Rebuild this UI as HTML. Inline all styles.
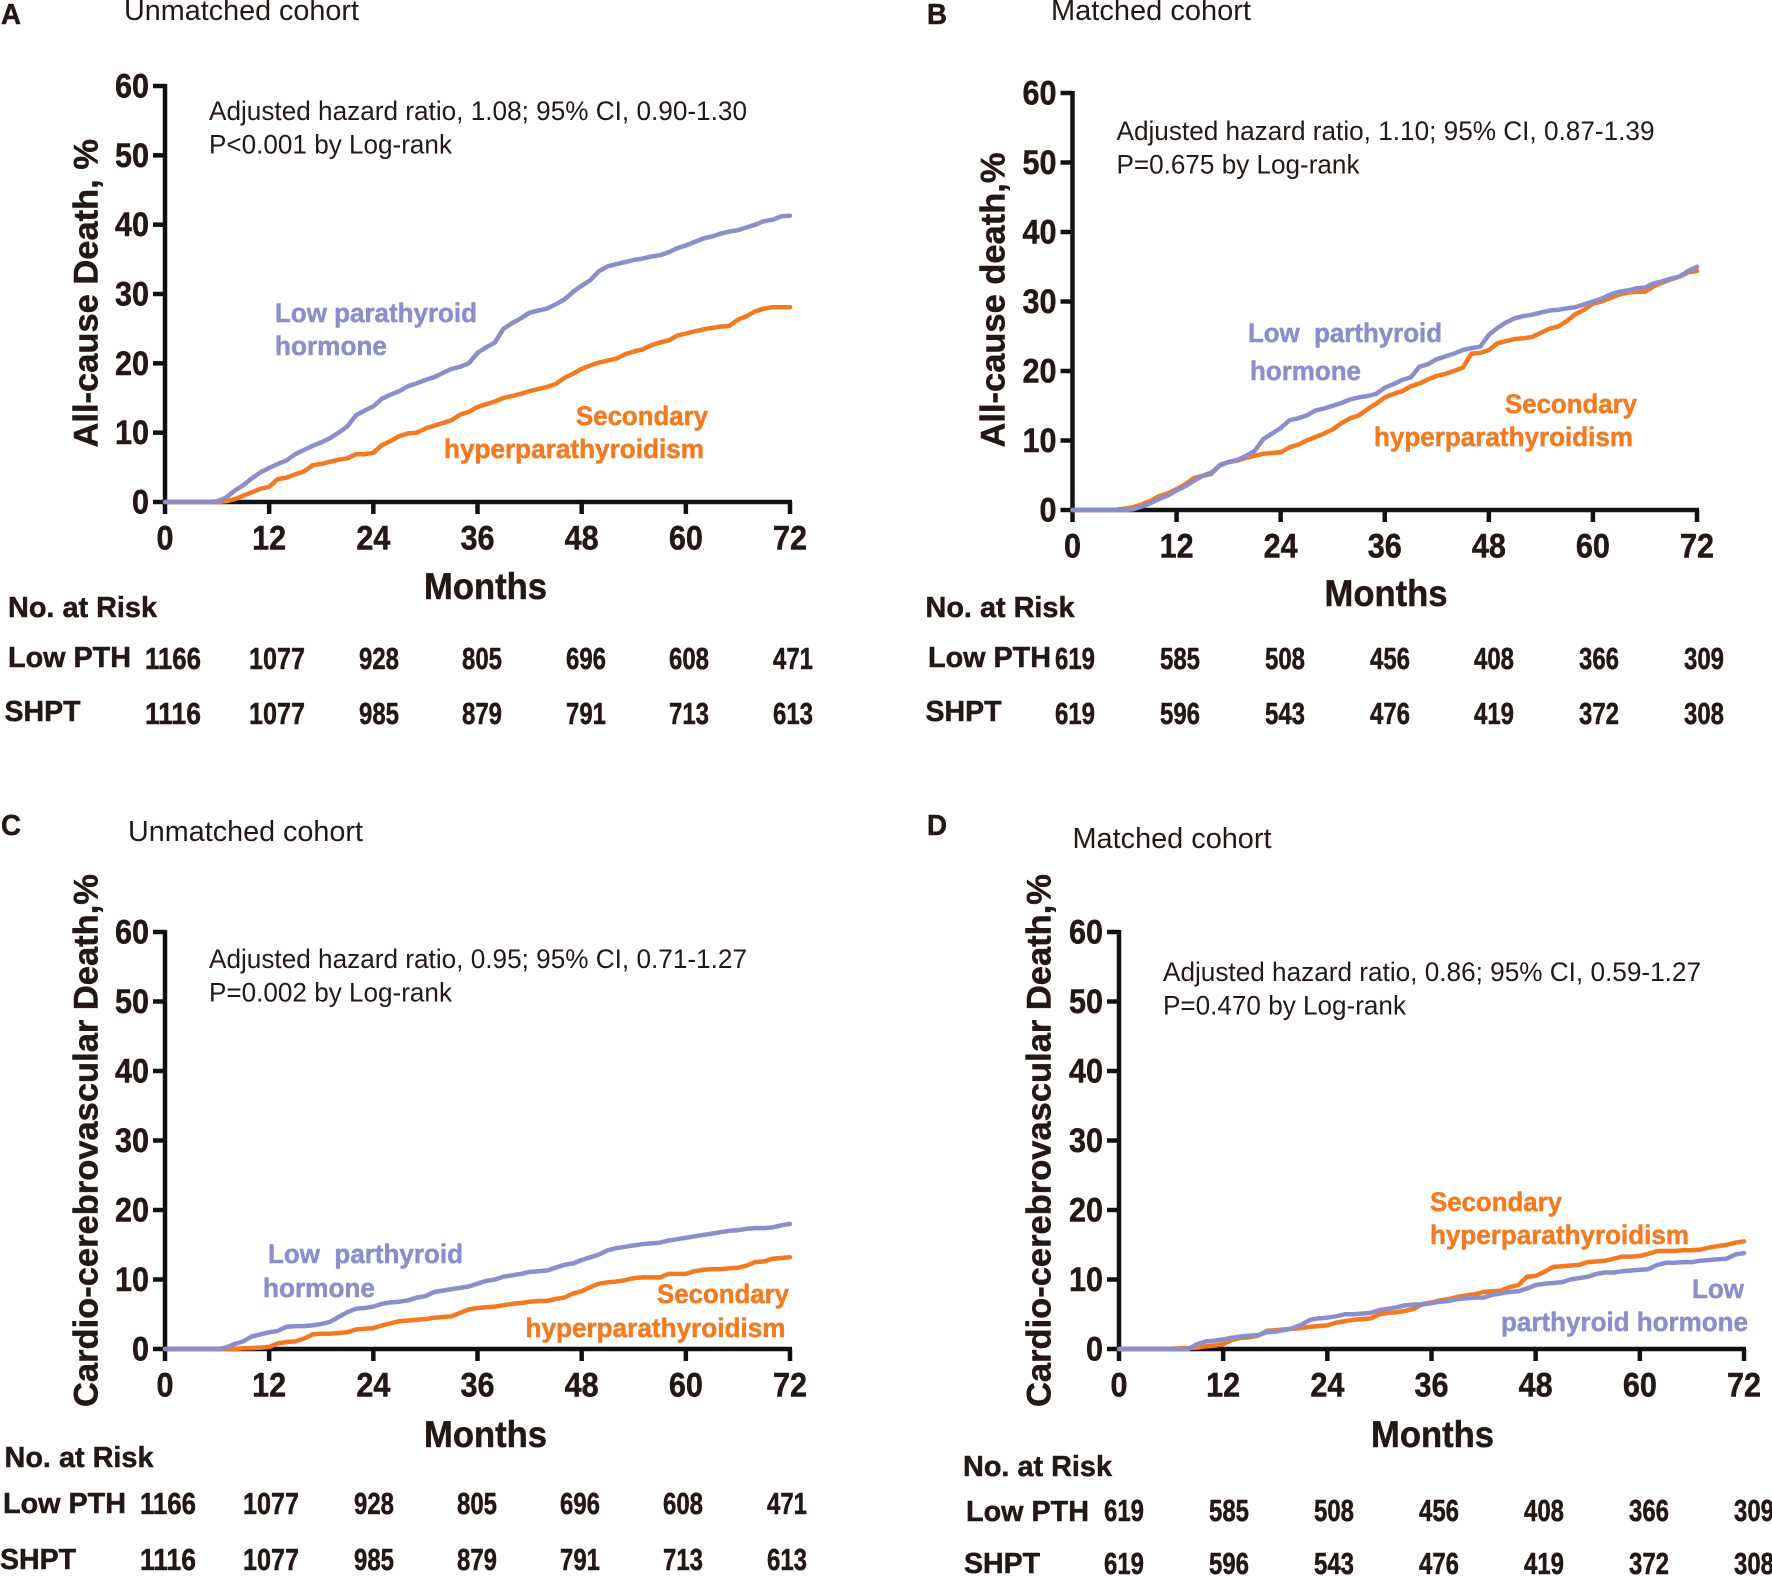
<!DOCTYPE html>
<html lang="en">
<head>
<meta charset="utf-8">
<title>Kaplan-Meier curves: low PTH vs secondary hyperparathyroidism</title>
<style>
html,body{margin:0;padding:0;background:#fff;}
svg{display:block;}
text{font-family:"Liberation Sans",Arial,sans-serif;fill:#231815;}
</style>
</head>
<body>
<svg id="figure" xmlns="http://www.w3.org/2000/svg" width="1772" height="1576" viewBox="0 0 1772 1576"></svg>
<script>
const months = [0,1,2,3,4,5,6,7,8,9,10,11,12,13,14,15,16,17,18,19,20,21,22,23,24,25,26,27,28,29,30,31,32,33,34,35,36,37,38,39,40,41,42,43,44,45,46,47,48,49,50,51,52,53,54,55,56,57,58,59,60,61,62,63,64,65,66,67,68,69,70,71,72];
const xTicks = [0,12,24,36,48,60,72];
const yTicks = [0,10,20,30,40,50,60];

const lowPthA = [0,0,0,0,0,0,.1,.6,1.6,2.4,3.4,4.3,4.9,5.5,6,6.9,7.5,8.1,8.6,9.2,10,10.9,12.5,13.2,13.8,14.9,15.5,16,16.7,17.1,17.6,18,18.6,19.2,19.5,20,21.5,22.3,23,25,25.8,26.5,27.3,27.6,27.9,28.5,29.2,30.3,31.2,32,33.3,34,34.3,34.6,34.9,35.1,35.4,35.6,36,36.6,37,37.5,38,38.3,38.7,39,39.2,39.6,40,40.5,40.7,41.2,41.3];
const shptA = [0,0,0,0,0,0,0,.1,.4,.9,1.4,1.9,2.2,3.3,3.5,4,4.4,5.3,5.5,5.8,6.1,6.3,6.9,6.9,7.1,8.2,8.8,9.5,9.9,10,10.6,11,11.4,11.8,12.6,13,13.7,14.1,14.5,15,15.3,15.6,16,16.3,16.6,17,17.9,18.5,19.2,19.7,20.1,20.4,20.7,21.3,21.7,22,22.6,23,23.3,24,24.3,24.6,24.9,25.1,25.3,25.4,26.3,26.8,27.5,27.9,28.1,28.1,28.1];

const lowPthB = [0,0,0,0,0,0,0,.1,.5,1,1.6,2.1,2.8,3.4,4.2,4.9,5.4,6.4,6.9,7.2,7.8,8.5,10.2,11,11.8,12.9,13.2,13.6,14.3,14.6,15,15.4,15.9,16.2,16.4,16.7,17.6,18.1,18.7,19.1,20.6,21,21.7,22.1,22.5,23,23.3,23.5,25.2,26.2,27,27.6,27.9,28.1,28.4,28.7,28.8,29,29.2,29.6,30,30.4,31,31.4,31.6,31.9,32,32.6,32.9,33.3,33.6,34.4,35];
const shptB = [0,0,0,0,0,.05,.2,.4,.8,1.3,2,2.4,3,3.7,4.6,4.9,5.2,6.5,6.9,7.1,7.5,7.8,8.1,8.2,8.3,9,9.4,10,10.5,11,11.6,12.5,13.2,13.6,14.5,15.3,16.2,16.7,17.1,17.8,18.2,18.8,19.3,19.6,20,20.5,22.5,22.6,23,24,24.3,24.6,24.7,24.9,25.5,26.1,26.4,27.2,28.2,28.8,29.7,30,30.5,31,31.3,31.4,31.4,32.2,32.7,33.2,33.6,34.2,34.4];

const lowPthC = [0,0,0,0,0,0,0,.2,.7,1.1,1.8,2.1,2.4,2.6,3.2,3.3,3.3,3.4,3.6,3.9,4.6,5.3,5.8,5.9,6.1,6.5,6.7,6.8,7,7.4,7.6,8.2,8.4,8.6,8.8,9,9.4,9.8,10,10.4,10.6,10.8,11.1,11.2,11.3,11.7,12.1,12.3,12.8,13.2,13.6,14.2,14.5,14.7,14.9,15.1,15.2,15.3,15.6,15.8,16,16.2,16.4,16.6,16.8,17,17.1,17.3,17.4,17.4,17.5,17.8,18];
const shptC = [0,0,0,0,0,0,0,0,0,.1,.15,.2,.3,.8,1,1.1,1.5,2.1,2.2,2.2,2.3,2.4,2.8,2.9,3,3.4,3.7,4,4.1,4.2,4.3,4.5,4.6,4.7,5.2,5.7,5.9,6,6.1,6.3,6.5,6.6,6.8,6.9,6.9,7.2,7.4,8,8.3,8.9,9.4,9.6,9.7,9.9,10.2,10.3,10.3,10.3,10.8,10.8,10.8,11.2,11.4,11.5,11.5,11.6,11.7,12,12.5,12.6,13,13.1,13.2];

const lowPthD = [0,0,0,0,0,0,0,0,0,.7,1.1,1.2,1.4,1.6,1.8,1.9,2,2.4,2.5,2.7,3,3.5,4.2,4.4,4.5,4.7,5,5,5.1,5.2,5.6,5.8,6,6.3,6.4,6.4,6.6,6.8,6.9,7.2,7.3,7.4,7.4,7.8,8,8.2,8.3,8.7,9.2,9.4,9.5,9.6,10,10.2,10.4,10.8,11,11,11.2,11.3,11.4,11.5,12.1,12.4,12.4,12.5,12.5,12.7,12.8,12.9,13,13.6,13.8];
const shptD = [0,0,0,0,0,0,.05,.1,.15,.2,.4,.5,.7,1.3,1.6,1.7,1.9,2.6,2.7,2.8,2.9,3,3.2,3.3,3.4,3.8,4,4.2,4.3,4.4,5,5.2,5.3,5.5,5.8,6.5,6.7,7,7.2,7.5,7.7,7.9,8.2,8.3,8.4,8.9,9.2,10.4,10.5,11.1,11.8,11.9,12,12.1,12.5,12.6,12.7,13,13.3,13.3,13.4,13.7,14.1,14.1,14.1,14.2,14.2,14.3,14.6,14.8,15,15.3,15.5];

const riskLowUnmatched = [1166,1077,928,805,696,608,471];
const riskShptUnmatched = [1116,1077,985,879,791,713,613];
const riskLowMatched = [619,585,508,456,408,366,309];
const riskShptMatched = [619,596,543,476,419,372,308];

const SVG_NS = 'http://www.w3.org/2000/svg';
const root = document.getElementById('figure');
const BLUE = '#8c8ecb';
const ORANGE = '#f47a21';
const INK = '#231815';

function node(parent, tag, name, attrs) {
  const el = document.createElementNS(SVG_NS, tag);
  
  
  for (const k in attrs) el.setAttribute(k, attrs[k]);
  parent.appendChild(el);
  return el;
}
function label(parent, name, str, x, y, size, weight, width, fill, rotate) {
  const el = node(parent, 'text', name, {
    x: x, y: y, 'font-size': size, 'font-weight': weight,
    textLength: width, lengthAdjust: 'spacingAndGlyphs'
  });
  el.setAttribute('xml:space', 'preserve');
  el.style.whiteSpace = 'pre';
  if (fill) el.style.fill = fill;
  if (weight === 700) {
    el.style.stroke = fill || INK;
    el.style.strokeWidth = '0.5px';
  }
  if (rotate) el.setAttribute('transform', 'rotate(-90 ' + x + ' ' + y + ')');
  el.textContent = str;
  return el;
}
function curvePath(xs, ys, xScale, yScale) {
  return xs.map((m, i) => (i ? 'L' : 'M') + xScale(m).toFixed(1) + ' ' + yScale(ys[i]).toFixed(1)).join('');
}

function drawPanel(p) {
  const g = node(root, 'g', 'panel-' + p.id, {});
  const xScale = m => p.x0 + (m / 72) * (p.x1 - p.x0);
  const yScale = v => p.y0 - (v / 60) * (p.y0 - p.y1);

  label(g, 'panel-letter', p.letter, p.letterX, p.letterY, 29, 700, 20);
  label(g, 'cohort-title', p.title, p.titleX, p.titleY, 29, 400, p.titleW);
  label(g, 'hazard-ratio-note', p.hr, p.noteX, p.noteY, 27, 400, 538);
  label(g, 'log-rank-note', p.pval, p.noteX, p.noteY + 33.5, 27, 400, 243);

  const axisAttrs = { stroke: '#111', 'stroke-width': 4.5, fill: 'none' };
  node(g, 'line', 'y-axis', Object.assign({ x1: p.x0, x2: p.x0, y1: p.y1 - 2, y2: p.y0 + 2 }, axisAttrs));
  node(g, 'line', 'x-axis', Object.assign({ x1: p.x0 - 2, x2: p.x1 + 2, y1: p.y0, y2: p.y0 }, axisAttrs));

  yTicks.forEach(v => {
    node(g, 'line', 'y-tick', Object.assign({ x1: p.x0 - 12, x2: p.x0, y1: yScale(v), y2: yScale(v) }, axisAttrs));
    const w = v === 0 ? 17 : 34;
    label(g, 'y-tick-label', String(v), p.x0 - 16 - w, yScale(v) + 11.5, 34, 700, w);
  });
  xTicks.forEach(m => {
    node(g, 'line', 'x-tick', Object.assign({ x1: xScale(m), x2: xScale(m), y1: p.y0, y2: p.y0 + 12 }, axisAttrs));
    const w = m === 0 ? 17 : 34;
    label(g, 'x-tick-label', String(m), xScale(m) - w / 2, p.y0 + 47.5, 34, 700, w);
  });

  const lineAttrs = { fill: 'none', 'stroke-width': 4.5, 'stroke-linejoin': 'round', 'stroke-linecap': 'round' };
  node(g, 'path', 'shpt-curve', Object.assign({ d: curvePath(months, p.shpt, xScale, yScale), stroke: ORANGE }, lineAttrs));
  node(g, 'path', 'low-pth-curve', Object.assign({ d: curvePath(months, p.low, xScale, yScale), stroke: BLUE }, lineAttrs));

  p.seriesLabels.forEach(s => {
    label(g, s.name, s.text, s.x, s.y, 27, 700, s.w, s.c);
  });

  label(g, 'y-axis-title', p.yTitle, p.yTitleX, 447.5 + p.yTitleShift, 34.5, 700, p.yTitleW, null, true);
  label(g, 'x-axis-title', 'Months', p.monthsX, p.monthsY, 37, 700, 123);

  label(g, 'risk-table-heading', 'No. at Risk', p.riskHeadX, p.riskHeadY, 29, 700, 149);
  label(g, 'risk-row-label-low-pth', 'Low PTH', p.lowLabelX, p.lowLabelY, 29, 700, 123);
  label(g, 'risk-row-label-shpt', 'SHPT', p.shptLabelX, p.shptLabelY, 29, 700, 76);
  p.riskCenters.forEach((c, i) => {
    const a = String(p.riskLow[i]);
    const b = String(p.riskShpt[i]);
    const aw = a.length === 4 ? 56 : 40;
    const bw = b.length === 4 ? 56 : 40;
    label(g, 'risk-low-pth-value', a, c - aw / 2, p.rowLowY, 31, 700, aw);
    label(g, 'risk-shpt-value', b, c - bw / 2, p.rowShptY, 31, 700, bw);
  });
}

drawPanel({
  id: 'a', letter: 'A', letterX: 1, letterY: 24,
  title: 'Unmatched cohort', titleX: 124, titleY: 20, titleW: 235,
  hr: 'Adjusted hazard ratio, 1.08; 95% CI, 0.90-1.30', pval: 'P<0.001 by Log-rank', noteX: 209, noteY: 120,
  x0: 165, x1: 790, y0: 502, y1: 86,
  low: lowPthA, shpt: shptA,
  seriesLabels: [
    { name: 'low-pth-label', text: 'Low parathyroid', x: 275, y: 322, w: 202, c: BLUE },
    { name: 'low-pth-label', text: 'hormone', x: 275, y: 355, w: 112, c: BLUE },
    { name: 'shpt-label', text: 'Secondary', x: 576, y: 425, w: 132, c: ORANGE },
    { name: 'shpt-label', text: 'hyperparathyroidism', x: 444, y: 458, w: 260, c: ORANGE }
  ],
  yTitle: 'All-cause Death, %', yTitleX: 97.5, yTitleW: 308.5, yTitleShift: 0,
  monthsX: 424, monthsY: 599,
  riskHeadX: 8, riskHeadY: 617, lowLabelX: 8, lowLabelY: 667, shptLabelX: 4.5, shptLabelY: 721,
  riskCenters: [173, 277, 379, 482, 586, 689, 793], riskLow: riskLowUnmatched, riskShpt: riskShptUnmatched,
  rowLowY: 669, rowShptY: 724
});
drawPanel({
  id: 'b', letter: 'B', letterX: 927, letterY: 24,
  title: 'Matched cohort', titleX: 1051, titleY: 20, titleW: 200,
  hr: 'Adjusted hazard ratio, 1.10; 95% CI, 0.87-1.39', pval: 'P=0.675 by Log-rank', noteX: 1116.5, noteY: 140,
  x0: 1072.5, x1: 1697, y0: 510, y1: 93,
  low: lowPthB, shpt: shptB,
  seriesLabels: [
    { name: 'low-pth-label', text: 'Low  parthyroid', x: 1248, y: 342, w: 194, c: BLUE },
    { name: 'low-pth-label', text: 'hormone', x: 1250, y: 380, w: 111, c: BLUE },
    { name: 'shpt-label', text: 'Secondary', x: 1505, y: 413, w: 132, c: ORANGE },
    { name: 'shpt-label', text: 'hyperparathyroidism', x: 1374, y: 446, w: 259, c: ORANGE }
  ],
  yTitle: 'All-cause death,%', yTitleX: 1004.5, yTitleW: 295, yTitleShift: 0,
  monthsX: 1324.5, monthsY: 606,
  riskHeadX: 925.5, riskHeadY: 617, lowLabelX: 928, lowLabelY: 667, shptLabelX: 925.5, shptLabelY: 721,
  riskCenters: [1075, 1180, 1285, 1390, 1494, 1599, 1704], riskLow: riskLowMatched, riskShpt: riskShptMatched,
  rowLowY: 669, rowShptY: 724
});
drawPanel({
  id: 'c', letter: 'C', letterX: 1, letterY: 835,
  title: 'Unmatched cohort', titleX: 128, titleY: 841, titleW: 235,
  hr: 'Adjusted hazard ratio, 0.95; 95% CI, 0.71-1.27', pval: 'P=0.002 by Log-rank', noteX: 209, noteY: 968,
  x0: 165, x1: 790, y0: 1349, y1: 932,
  low: lowPthC, shpt: shptC,
  seriesLabels: [
    { name: 'low-pth-label', text: 'Low  parthyroid', x: 268, y: 1263, w: 195, c: BLUE },
    { name: 'low-pth-label', text: 'hormone', x: 263, y: 1297, w: 112, c: BLUE },
    { name: 'shpt-label', text: 'Secondary', x: 657, y: 1303, w: 132, c: ORANGE },
    { name: 'shpt-label', text: 'hyperparathyroidism', x: 525.5, y: 1337, w: 260, c: ORANGE }
  ],
  yTitle: 'Cardio-cerebrovascular Death,%', yTitleX: 97.5, yTitleW: 533, yTitleShift: 959.5,
  monthsX: 424, monthsY: 1447,
  riskHeadX: 4.5, riskHeadY: 1467, lowLabelX: 3, lowLabelY: 1513, shptLabelX: 0, shptLabelY: 1569,
  riskCenters: [168, 271, 374, 477, 580, 683, 787], riskLow: riskLowUnmatched, riskShpt: riskShptUnmatched,
  rowLowY: 1514, rowShptY: 1570
});
drawPanel({
  id: 'd', letter: 'D', letterX: 927, letterY: 835,
  title: 'Matched cohort', titleX: 1072.5, titleY: 848, titleW: 199,
  hr: 'Adjusted hazard ratio, 0.86; 95% CI, 0.59-1.27', pval: 'P=0.470 by Log-rank', noteX: 1163, noteY: 981,
  x0: 1119, x1: 1744, y0: 1349, y1: 932,
  low: lowPthD, shpt: shptD,
  seriesLabels: [
    { name: 'shpt-label', text: 'Secondary', x: 1430, y: 1211, w: 132, c: ORANGE },
    { name: 'shpt-label', text: 'hyperparathyroidism', x: 1430, y: 1244, w: 259, c: ORANGE },
    { name: 'low-pth-label', text: 'Low', x: 1692, y: 1298, w: 52, c: BLUE },
    { name: 'low-pth-label', text: 'parthyroid hormone', x: 1501, y: 1331, w: 247, c: BLUE }
  ],
  yTitle: 'Cardio-cerebrovascular Death,%', yTitleX: 1050.5, yTitleW: 533, yTitleShift: 959.5,
  monthsX: 1371, monthsY: 1447,
  riskHeadX: 963, riskHeadY: 1476, lowLabelX: 966, lowLabelY: 1521, shptLabelX: 964, shptLabelY: 1573,
  riskCenters: [1124, 1229, 1334, 1439, 1544, 1649, 1754], riskLow: riskLowMatched, riskShpt: riskShptMatched,
  rowLowY: 1521, rowShptY: 1574
});
</script>
</body>
</html>
